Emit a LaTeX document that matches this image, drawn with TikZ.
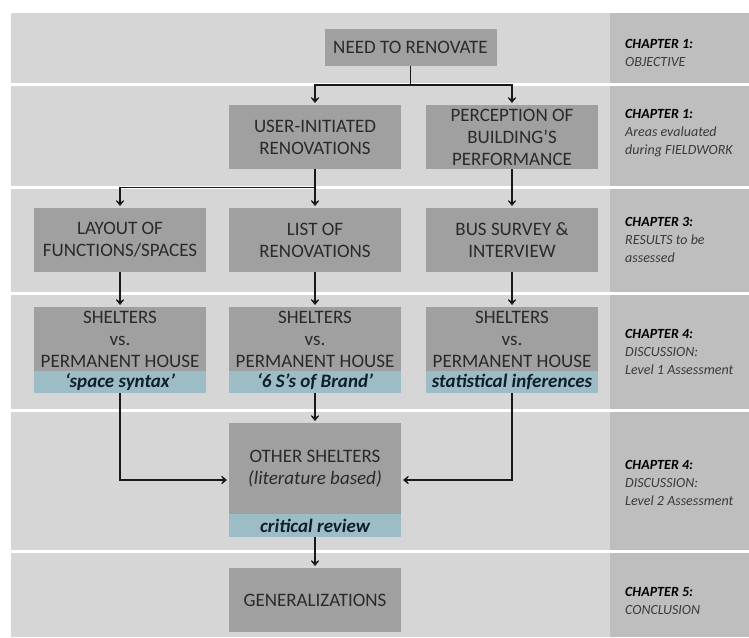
\documentclass[tikz,border=0pt]{standalone}
\usepackage{fontspec}
\setmainfont{Carlito}
\usetikzlibrary{arrows.meta}

\definecolor{bandgray}{HTML}{D6D6D6}
\definecolor{sidegray}{HTML}{BEBEBE}
\definecolor{boxgray}{HTML}{A0A0A0}
\definecolor{tagblue}{HTML}{9CBCC6}
\definecolor{inkdark}{HTML}{2A2A2A}
\definecolor{tagink}{HTML}{0E1E2C}
\definecolor{chapink}{HTML}{3A3A3A}

\begin{document}
\begin{tikzpicture}[x=1pt,y=-1pt,
  box/.style={fill=boxgray, minimum width=172pt, inner sep=0pt, text=inkdark,
    font=\fontsize{19}{22}\selectfont, align=center},
  boxtext/.style={inner sep=0pt, text=inkdark, font=\fontsize{19}{22}\selectfont, align=center},
  tag/.style={fill=tagblue, minimum width=172pt, minimum height=22pt, inner sep=0pt,
    text=tagink, font=\fontsize{19}{22}\selectfont\bfseries\itshape},
  chap/.style={anchor=west, align=left, inner sep=0pt, text=chapink,
    font=\fontsize{14}{18}\selectfont\itshape},
  wire/.style={draw=black!90, line width=1.4pt},
  arr/.style={wire, -{Stealth[length=7pt,width=11pt,inset=3.5pt,round]}, shorten >=2pt},
]

% canvas
\fill[white] (0,0) rectangle (749,637);
\useasboundingbox (0,0) rectangle (749,637);

% horizontal bands with the darker chapter column on the right
\foreach \t/\b in {13/82.5, 85.5/186, 189/291.5, 294.5/408.5, 411.5/549.5, 552.5/637}{
  \fill[bandgray] (11,\t) rectangle (610,\b);
  \fill[sidegray] (610,\t) rectangle (749,\b);
}

% boxes
\node[box, minimum height=37pt] (need) at (410.5,47.5) {NEED TO RENOVATE};
\node[box, minimum height=64pt] (user) at (315,137) {USER-INITIATED\\RENOVATIONS};
\node[box, minimum height=64pt] (perc) at (512,137) {PERCEPTION OF\\BUILDING’S\\PERFORMANCE};

\node[box, minimum height=64pt] (layout) at (120,240) {LAYOUT OF\\FUNCTIONS/SPACES};
\node[box, minimum height=64pt] (list) at (315,240) {LIST OF\\RENOVATIONS};
\node[box, minimum height=64pt] (bus) at (512,240) {BUS SURVEY \&\\INTERVIEW};

\node[box, minimum height=86pt] (sh1) at (120,350) {};
\node[boxtext] (sh1txt) at (120,339) {SHELTERS\\vs.\\PERMANENT HOUSE};
\node[tag] (sh1tag) at (120,382) {‘space syntax’};

\node[box, minimum height=86pt] (sh2) at (315,350) {};
\node[boxtext] (sh2txt) at (315,339) {SHELTERS\\vs.\\PERMANENT HOUSE};
\node[tag] (sh2tag) at (315,382) {‘6 S’s of Brand’};

\node[box, minimum height=86pt] (sh3) at (512,350) {};
\node[boxtext] (sh3txt) at (512,339) {SHELTERS\\vs.\\PERMANENT HOUSE};
\node[tag] (sh3tag) at (512,382) {statistical inferences};

\node[box, minimum height=114pt] (other) at (315,480) {};
\node[boxtext] (othertxt) at (315,468.5) {OTHER SHELTERS\\\textit{(literature based)}};
\node[tag, minimum height=23pt] (othertag) at (315,525.5) {critical review};

\node[box, minimum height=64pt] (gen) at (315,600) {GENERALIZATIONS};

% connectors
\coordinate (j1) at (410.5,85);
\draw[wire] (need) -- (j1);
\draw[arr] (j1) -| (user);
\draw[arr] (j1) -| (perc);

\coordinate (j2) at (315,187.5);
\draw[wire] (user) -- (j2);
\draw[arr] (j2) -| (layout);
\draw[arr] (j2) -- (list);
\draw[arr] (perc) -- (bus);

\draw[arr] (layout) -- (sh1);
\draw[arr] (list) -- (sh2);
\draw[arr] (bus) -- (sh3);

\draw[arr] (sh2) -- (other);
\draw[arr] (sh1) |- (other);
\draw[arr] (sh3) |- (other);
\draw[arr] (other) -- (gen);

% chapter column
\node[chap] (c1) at (625,52.5) {{\bfseries\color{black}CHAPTER 1:}\\OBJECTIVE};
\node[chap] (c2) at (625,133.5) {{\bfseries\color{black}CHAPTER 1:}\\Areas evaluated\\during FIELDWORK};
\node[chap] (c3) at (625,239.5) {{\bfseries\color{black}CHAPTER 3:}\\RESULTS to be\\assessed};
\node[chap] (c4) at (625,351.5) {{\bfseries\color{black}CHAPTER 4:}\\DISCUSSION:\\Level 1 Assessment};
\node[chap] (c5) at (625,483) {{\bfseries\color{black}CHAPTER 4:}\\DISCUSSION:\\Level 2 Assessment};
\node[chap] (c6) at (625,601) {{\bfseries\color{black}CHAPTER 5:}\\CONCLUSION};

\end{tikzpicture}
\end{document}
